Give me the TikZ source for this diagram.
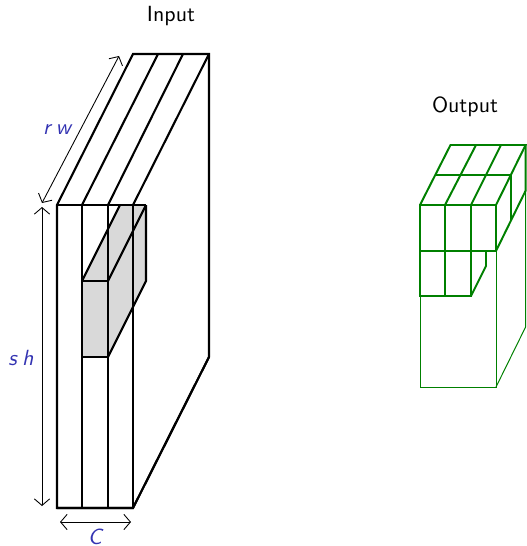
\documentclass[tikz,border=0pt]{standalone}
\usetikzlibrary{arrows.meta}
\definecolor{lblblue}{rgb}{0.2,0.2,0.7}
\definecolor{outgreen}{rgb}{0,0.5,0}
\tikzset{
  heavy/.style={line width=0.95pt,black,line join=miter},
  gthick/.style={line width=0.9pt,outgreen},
  gthin/.style={line width=0.45pt,outgreen},
  dim/.style={line width=0.4pt,black,{Straight Barb[length=3pt,width=7pt]}-{Straight Barb[length=3pt,width=7pt]}},
  title/.style={font=\sffamily,black,inner sep=0pt},
  dimlabel/.style={font=\sffamily\slshape,text=lblblue,inner sep=0pt}
}
\begin{document}
\begin{tikzpicture}[x=0.456pt,y=-0.456pt]
\useasboundingbox (0,0) rectangle (526,546);
% Input: strips
\draw[heavy] (57,205) -- (133,54) -- (209,54) -- (209,357) -- (133,508) -- (57,508) -- cycle;
\draw[heavy] (82,205) -- (158,54);
\draw[heavy] (108,205) -- (183,54);
\draw[heavy] (133,205) -- (209,54);
% Grey patch
\fill[black!15] (82,281) -- (120,205) -- (146,205) -- (146,281) -- (108,357) -- (82,357) -- cycle;
% front edges over the patch
\draw[heavy] (57,205) -- (146,205);
\draw[heavy] (82,205) -- (82,508);
\draw[heavy] (108,205) -- (108,508);
\draw[heavy] (133,205) -- (133,508);
\draw[heavy] (82,281) rectangle (108,357);
\draw[heavy] (82,281) -- (120,205);
\draw[heavy] (108,281) -- (146,205);
\draw[heavy] (108,357) -- (146,281) -- (146,205);
\draw[heavy] (57,508) -- (133,508) -- (209,357);
% Output: thin box
\draw[gthin] (420,296) -- (420,387) -- (496,387) -- (496,251);
\draw[gthin] (496,387) -- (525.6,327) -- (525.6,190);
% Output: second row
\draw[gthick] (420,251) -- (420,296) -- (471,296) -- (471,251);
\draw[gthick] (445,251) -- (445,296);
\draw[gthick] (471,296) -- (486,266) -- (486,251);
% Output: first row
\draw[gthick] (420,205) rectangle (496,251);
\draw[gthick] (445,205) -- (445,251);
\draw[gthick] (471,205) -- (471,251);
\draw[gthick] (420,205) -- (450.5,145) -- (525.6,145) -- (496,205);
\draw[gthick] (445,205) -- (476,145);
\draw[gthick] (471,205) -- (501,145);
\draw[gthick] (435.5,175) -- (511,175) -- (511,220);
\draw[gthick] (496,251) -- (525.6,190.7) -- (525.6,145);
% Dimension arrows
\coordinate (rwa) at (42,203);
\coordinate (rwb) at (119,56);
\coordinate (sha) at (42,207);
\coordinate (shb) at (42,506);
\coordinate (ca) at (60,522);
\coordinate (cb) at (131,522);
\draw[dim] (rwa) -- (rwb);
\draw[dim] (sha) -- (shb);
\draw[dim] (ca) -- (cb);
% Labels
\node[title] (input) at (171,16) {Input};
\node[title] (output) at (465,107) {Output};
\node[dimlabel] (rw) at (57,130) {r\kern2.4pt w};
\node[dimlabel] (sh) at (21,358) {s\kern2.4pt h};
\node[dimlabel] (c) at (95,537) {C};
\end{tikzpicture}
\end{document}
